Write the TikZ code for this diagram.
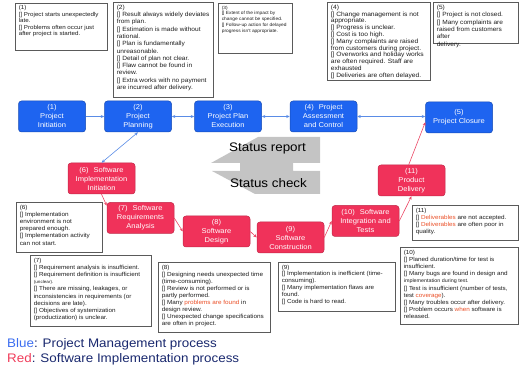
\documentclass[tikz,border=0pt]{standalone}
\usepackage{fontspec}
\setmainfont{Liberation Sans}[FakeStretch=1.08]
\usetikzlibrary{arrows.meta}
\definecolor{pmblue}{RGB}{30,100,240}
\definecolor{sired}{RGB}{240,50,90}
\definecolor{pmline}{RGB}{90,140,230}
\definecolor{siline}{RGB}{235,70,100}
\definecolor{notegray}{RGB}{90,90,90}
\definecolor{notetext}{RGB}{30,30,30}
\definecolor{hl}{RGB}{235,80,40}
\definecolor{statgray}{RGB}{196,196,196}
\definecolor{lgblue}{RGB}{60,110,240}
\definecolor{lgred}{RGB}{240,60,90}
\definecolor{lgnavy}{RGB}{25,40,110}
\newcommand\nt[5]{\parbox[c][#2][t]{#1}{\fontsize{#3}{#4}\selectfont\raggedright #5}}
\newcommand\ck{{[]}}
\begin{document}
\begin{tikzpicture}[x=1pt,y=-1pt,
  proc/.style={rectangle, rounded corners=3pt, line width=0.5pt, text=white, align=center,
    font=\fontsize{7}{9}\selectfont, minimum width=67pt, minimum height=31pt, inner sep=1pt},
  pm/.style={proc, fill=pmblue, draw=pmblue!75!black},
  si/.style={proc, fill=sired, draw=sired!80!black},
  note/.style={draw=notegray, line width=0.6pt, fill=white, anchor=north west,
    inner xsep=3.5pt, inner ysep=2.5pt, text=notetext},
  pmarrow/.style={draw=pmline, line width=0.6pt},
  siarrow/.style={draw=siline, line width=0.6pt, -{Stealth[length=3.5pt,width=3pt]}}
]
\useasboundingbox (0,0) rectangle (519,371);

% status shape
\fill[statgray] (258,137) -- (320,137) -- (320,163) -- (293,163) -- (293,171) -- (320,171)
  -- (320,194) -- (255,194) -- (212,171) -- (240,171) -- (240,163) -- (211,163) -- cycle;
\node[anchor=base west, inner sep=0, font=\fontsize{12.4}{14}\selectfont] (st1) at (229,152) {Status report};
\node[anchor=base west, inner sep=0, font=\fontsize{12.4}{14}\selectfont] (st2) at (230,188) {Status check};

% notes
\node[note] (b1) at (15,3) {\nt{85pt}{42pt}{5.75}{6.5}{(1)\\\ck{} Project starts unexpectedly\\late.\\\ck{} Problems often occur just\\after project is started.}};
\node[note] (b2) at (113,2) {\nt{93pt}{90pt}{6.1}{7.3}{(2)\\\ck{} Result always widely deviates\\from plan.\\\ck{} Estimation is made without\\rational.\\\ck{} Plan is fundamentally\\unreasonable.\\\ck{} Detail of plan not clear.\\\ck{} Flaw cannot be found in\\review.\\\ck{} Extra works with no payment\\are incurred after delivery.}};
\node[note] (b3) at (218,3) {\nt{67pt}{45pt}{4.5}{5.8}{(3)\\\ck{} Extent of the impact by\\change cannot be specified.\\\ck{} Follow-up action for delayed\\progress isn't appropriate.}};
\node[note] (b4) at (327,2) {\nt{96pt}{73pt}{6.2}{6.8}{(4)\\\ck{} Change management is not\\appropriate.\\\ck{} Progress is unclear.\\\ck{} Cost is too high.\\\ck{} Many complaints are raised\\from customers during project.\\\ck{} Overworks and holiday works\\are often required. Staff are\\exhausted\\\ck{} Deliveries are often delayed.}};
\node[note] (b5) at (433,2) {\nt{78pt}{36pt}{6.1}{7.4}{(5)\\\ck{} Project is not closed.\\\ck{} Many complaints are\\raised from customers after\\delivery.}};
\node[note] (b6) at (16,202) {\nt{79pt}{45pt}{5.9}{7.2}{(6)\\\ck{} Implementation\\environment is not\\prepared enough.\\\ck{} Implementation activity\\can not start.}};
\node[note] (b7) at (30,255) {\nt{114pt}{66pt}{5.85}{7.2}{(7)\\\ck{} Requirement analysis is insufficient.\\\ck{} Requirement definition is insufficient\\{\fontsize{4.3}{7.2}\selectfont (unclear).}\\\ck{} There are missing, leakages, or\\inconsistencies in requirements (or\\decisions are late).\\\ck{} Objectives of systemization\\(productization) is unclear.}};
\node[note] (b8) at (158,262) {\nt{105pt}{65pt}{5.9}{7.1}{(8)\\\ck{} Designing needs unexpected time\\(time-consuming).\\\ck{} Review is not performed or is\\partly performed.\\\ck{} Many \textcolor{hl}{problems are found} in\\design review.\\\ck{} Unexpected change specifications\\are often in project.}};
\node[note] (b9) at (278,262) {\nt{110pt}{44pt}{5.85}{6.9}{(9)\\\ck{} Implementation is inefficient (time-\\consuming).\\\ck{} Many implementation flaws are\\found.\\\ck{} Code is hard to read.}};
\node[note] (b10) at (400,247) {\nt{111pt}{72pt}{5.85}{7.2}{(10)\\\ck{} Planed duration/time for test is\\insufficient.\\\ck{} Many bugs are found in design and\\{\fontsize{5}{7.2}\selectfont implementation during test.}\\\ck{} Test is insufficient (number of tests,\\test \textcolor{hl}{coverage}).\\\ck{} Many troubles occur after delivery.\\\ck{} Problem occurs \textcolor{hl}{when} software is\\released.}};
\node[note] (b11) at (412,205) {\nt{99pt}{30pt}{5.85}{7.0}{(11)\\\ck{} \textcolor{hl}{Deliverables} are not accepted.\\\ck{} \textcolor{hl}{Deliverables} are often poor in\\quality.}};

% process nodes
\node[pm] (n1) at (52,116.5) {(1)\\Project\\Initiation};
\node[pm] (n2) at (138,116.5) {(2)\\Project\\Planning};
\node[pm] (n3) at (228,116.5) {(3)\\Project Plan\\Execution};
\node[pm] (n4) at (323.5,116.5) {(4)\hspace{5pt}Project\\Assessment\\and Control};
\node[pm] (n5) at (459,117.5) {(5)\\Project Closure};
\node[si] (n6) at (101.5,178.5) {(6)\hspace{5pt}Software\\Implementation\\Initiation};
\node[si] (n7) at (140.5,218) {(7)\hspace{5pt}Software\\Requirements\\Analysis};
\node[si] (n8) at (216.5,231.5) {(8)\\Software\\Design};
\node[si] (n9) at (290.5,237.5) {(9)\\Software\\Construction};
\node[si] (n10) at (365.5,221) {(10)\hspace{5pt}Software\\Integration and\\Tests};
\node[si] (n11) at (411.5,180.5) {(11)\\Product\\Delivery};

% connectors
\draw[pmarrow,-{Stealth[length=3.5pt,width=3pt]}] (n1) -- (n2);
\draw[pmarrow,{Stealth[length=3.5pt,width=3pt]}-{Stealth[length=3.5pt,width=3pt]}] (n2) -- (n3);
\draw[pmarrow,{Stealth[length=3.5pt,width=3pt]}-{Stealth[length=3.5pt,width=3pt]}] (n3) -- (n4);
\draw[pmarrow,{Stealth[length=3.5pt,width=3pt]}-{Stealth[length=3.5pt,width=3pt]}] (n4.east) -- (n4.east -| n5.west);
\draw[pmarrow,{Stealth[length=3.5pt,width=3pt]}-{Stealth[length=3.5pt,width=3pt]}] (n2.south) -- (n6.north);
\draw[siarrow] (n6.south) -- (n7.160);
\draw[siarrow] (n7.east) -- (n8.west);
\draw[siarrow] (n8.east) -- (n9.west);
\draw[siarrow] (n9.east) -- (n10.west);
\draw[siarrow] (n10.east) -- (n11.south);
\draw[siarrow] (n11.100) -- (n5.188);

% legend
\node[anchor=base west, inner sep=0, font=\fontsize{12.4}{14}\selectfont] (lg1) at (7,347) {\textcolor{lgblue}{Blue}\textcolor{lgnavy}{: Project Management process}};
\node[anchor=base west, inner sep=0, font=\fontsize{12.4}{14}\selectfont] (lg2) at (7,362) {\textcolor{lgred}{Red}\textcolor{lgnavy}{: Software Implementation process}};
\end{tikzpicture}
\end{document}
